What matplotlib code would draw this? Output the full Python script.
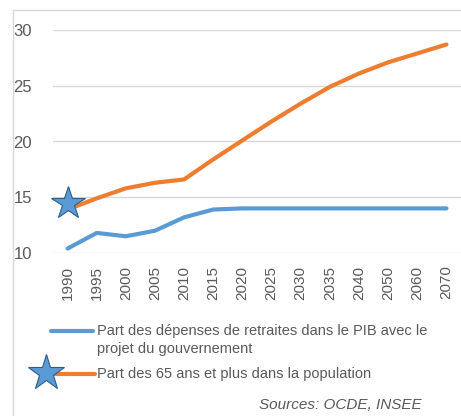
import matplotlib.pyplot as plt
from matplotlib.lines import Line2D

years = ['1990', '1995', '2000', '2005', '2010', '2015', '2020', '2025',
         '2030', '2035', '2040', '2050', '2060', '2070']
depenses_pib = [10.4, 11.8, 11.5, 12.0, 13.2, 13.9, 14.0, 14.0,
                14.0, 14.0, 14.0, 14.0, 14.0, 14.0]
part_65_plus = [13.9, 14.9, 15.8, 16.3, 16.6, 18.4, 20.1, 21.8,
                23.4, 24.9, 26.1, 27.1, 27.9, 28.7]
star_value = 14.5

label_blue = 'Part des dépenses de retraites dans le PIB avec le\nprojet du gouvernement'
label_orange = 'Part des 65 ans et plus dans la population'
source = 'Sources: OCDE, INSEE'

blue = '#5B9BD5'
orange = '#ED7D31'
grey = '#595959'
plt.rcParams['font.family'] = ['Liberation Sans', 'DejaVu Sans']

W, H = 461, 416
fig = plt.figure(figsize=(W / 100, H / 100), dpi=100)
ax = fig.add_axes([53 / W, 1 - 253 / H, (W - 53) / W, 223 / H])

x = range(len(years))
ax.plot(x, depenses_pib, color=blue, lw=3, solid_capstyle='round', zorder=3)
ax.plot(x, part_65_plus, color=orange, lw=3, solid_capstyle='round', zorder=3)
ax.plot([0], [star_value], marker='*', markersize=25, color=blue,
        markeredgecolor='#2E5C8A', markeredgewidth=0.8, zorder=4, clip_on=False)

ax.set_xlim(-0.5, len(years) - 0.5)
ax.set_ylim(10, 30)
ax.set_yticks([10, 15, 20, 25, 30])
ax.set_xticks(list(x))
ax.set_xticklabels(years, rotation=90)
ax.grid(axis='y', color='#D9D9D9', lw=1)
ax.set_axisbelow(True)
for s in ax.spines.values():
    s.set_visible(False)
ax.tick_params(length=0, colors=grey)
ax.tick_params(axis='x', pad=9, labelsize=11)
ax.tick_params(axis='y', pad=15, labelsize=12)

# frame border of the screenshot
fig.add_artist(Line2D([13 / W, 13 / W], [0, 1 - 10 / H], color='#D9D9D9', lw=1))
fig.add_artist(Line2D([13 / W, 1], [1 - 10 / H, 1 - 10 / H], color='#D9D9D9', lw=1))

# legend drawn by hand
fig.add_artist(Line2D([51 / W, 93 / W], [1 - 331 / H] * 2, color=blue, lw=3,
                      solid_capstyle='round'))
fig.text(97 / W, 1 - 340 / H, label_blue, color=grey, fontsize=10.5,
         va='center', linespacing=1.45)
fig.add_artist(Line2D([55 / W, 95 / W], [1 - 374 / H] * 2, color=orange, lw=3,
                      solid_capstyle='round'))
fig.add_artist(Line2D([46 / W], [1 - 373 / H], marker='*', markersize=27,
                      color=blue, markeredgecolor='#2E5C8A', markeredgewidth=0.8))
fig.text(97 / W, 1 - 374 / H, label_orange, color=grey, fontsize=10.5, va='center')
fig.text(422 / W, 1 - 405 / H, source, color=grey, fontsize=11,
         style='italic', ha='right', va='center')

fig.savefig('out.png', dpi=100)
